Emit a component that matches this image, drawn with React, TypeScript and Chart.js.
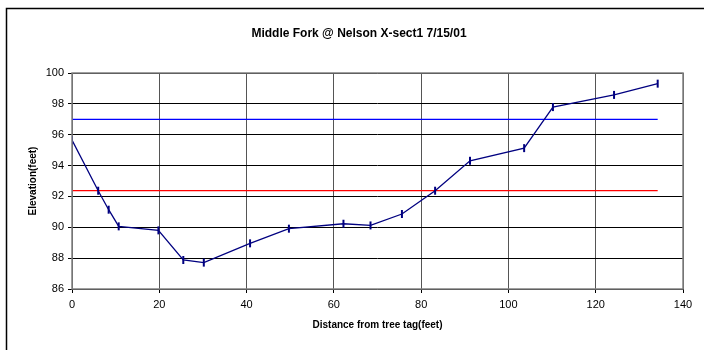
import React, { useEffect, useRef } from "react";
import { Chart, registerables } from "chart.js";

Chart.register(...registerables);

const TITLE = "Middle Fork @ Nelson X-sect1 7/15/01";
const X_TITLE = "Distance from tree tag(feet)";
const Y_TITLE = "Elevation(feet)";

const distance = [0, 6.0, 8.4, 10.7, 19.8, 25.5, 30.2, 40.8, 49.7, 62.2, 68.4, 75.6, 83.2, 91.2, 103.6, 110.2, 124.2, 134.2];
const elevation = [95.65, 92.37, 91.14, 90.06, 89.8, 87.88, 87.71, 88.96, 89.91, 90.23, 90.12, 90.86, 92.37, 94.31, 95.13, 97.79, 98.58, 99.31];

const bankfullX = [0, 134.2];
const bankfullY = [97, 97];
const waterX = [0, 134.2];
const waterY = [92.37, 92.37];

const FONT = "Arial, 'Liberation Sans', sans-serif";

const framePlugin = {
  id: "frameAndTitles",
  afterDraw(chart: any) {
    const ctx = chart.ctx;
    const { left, right, top, bottom } = chart.chartArea;
    ctx.save();
    // outer frame
    ctx.strokeStyle = "#000";
    ctx.lineWidth = 1.5;
    ctx.strokeRect(6.5, 8.5, 740, 380);
    // plot border
    ctx.strokeStyle = "#808080";
    ctx.lineWidth = 1.5;
    ctx.strokeRect(left, top, right - left, bottom - top);
    // titles
    ctx.fillStyle = "#000";
    ctx.textAlign = "center";
    ctx.textBaseline = "middle";
    ctx.font = `bold 12px ${FONT}`;
    ctx.fillText(TITLE, 359, 34);
    ctx.font = `bold 10px ${FONT}`;
    ctx.fillText(X_TITLE, (left + right) / 2, 325);
    ctx.translate(33, (top + bottom) / 2);
    ctx.rotate(-Math.PI / 2);
    ctx.fillText(Y_TITLE, 0, 0);
    ctx.restore();
  },
};

export default function App() {
  const ref = useRef<HTMLCanvasElement | null>(null);
  useEffect(() => {
    if (!ref.current) return;
    const toPts = (xs: number[], ys: number[]) => xs.map((x, i) => ({ x, y: ys[i] }));
    const chart = new Chart(ref.current, {
      type: "line",
      data: {
        datasets: [
          {
            data: toPts(bankfullX, bankfullY),
            borderColor: "#0000ff",
            borderWidth: 1.2,
            pointRadius: 0,
            order: 2,
          },
          {
            data: toPts(waterX, waterY),
            borderColor: "#ff0000",
            borderWidth: 1.2,
            pointRadius: 0,
            order: 2,
          },
          {
            data: toPts(distance, elevation),
            borderColor: "#000080",
            borderWidth: 1.3,
            pointStyle: "line",
            rotation: 90,
            pointRadius: 4,
            pointBorderWidth: 2,
            pointBorderColor: "#000080",
            pointBackgroundColor: "#000080",
            order: 1,
          },
        ],
      },
      options: {
        animation: false,
        responsive: false,
        maintainAspectRatio: false,
        layout: { padding: { left: 0, right: 21, top: 73, bottom: 0 } },
        plugins: { legend: { display: false }, tooltip: { enabled: false }, title: { display: false } },
        scales: {
          x: {
            type: "linear",
            min: 0,
            max: 140,
            ticks: { stepSize: 20, color: "#000", font: { family: FONT, size: 11 }, padding: 5, maxRotation: 0 },
            grid: { color: "#555", lineWidth: 1, tickLength: 4, tickColor: "#000", drawTicks: true },
            border: { display: false },
            afterFit(scale: any) {
              scale.height = 61;
            },
          },
          y: {
            type: "linear",
            min: 86,
            max: 100,
            ticks: { stepSize: 2, color: "#000", font: { family: FONT, size: 11 }, padding: 4 },
            grid: { color: "#000", lineWidth: 1, tickLength: 4, tickColor: "#000" },
            border: { display: false },
            afterFit(scale: any) {
              scale.width = 72;
            },
          },
        },
      },
      plugins: [framePlugin],
    } as any);
    return () => chart.destroy();
  }, []);
  return (
    <div style={{ position: "fixed", left: 0, top: 0, width: 704, height: 350, background: "#fff" }}>
      <canvas ref={ref} width={704} height={350} style={{ display: "block" }} />
    </div>
  );
}
